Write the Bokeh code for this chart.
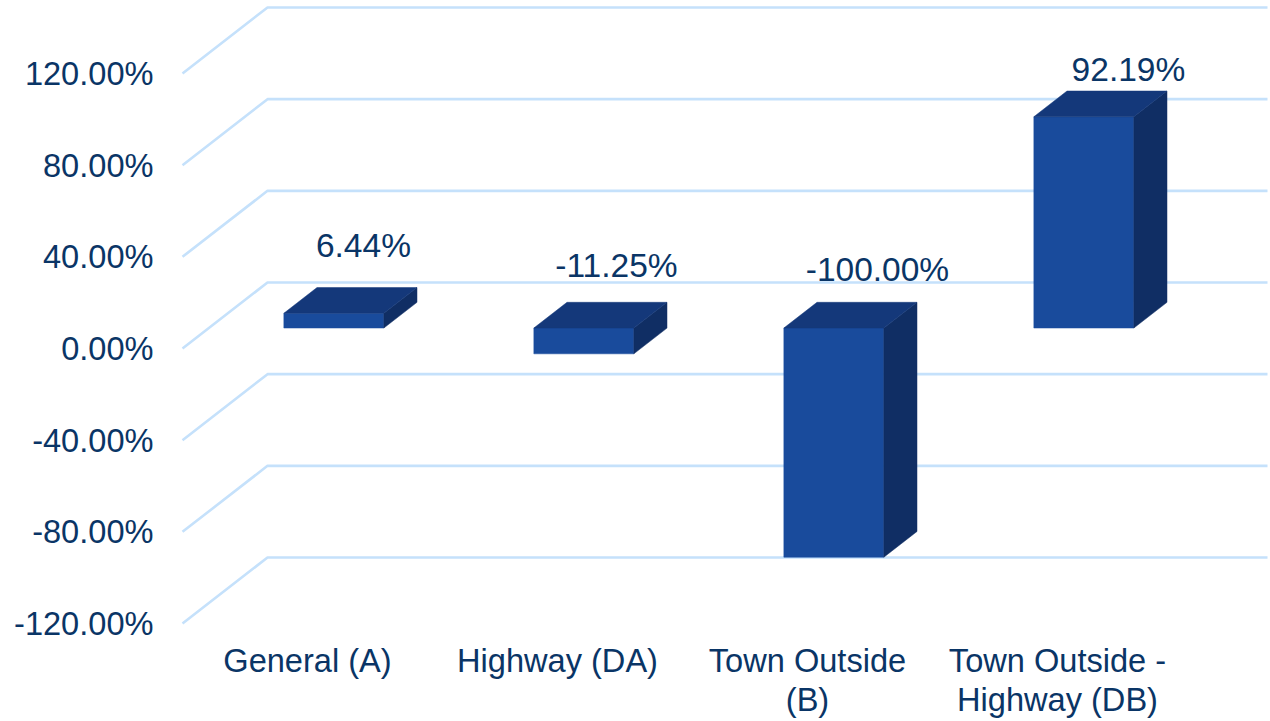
from bokeh.plotting import figure
from bokeh.models import Range1d, FixedTicker, ColumnDataSource
from bokeh.embed import file_html
from bokeh.resources import INLINE
from bokeh.core.properties import value

categories = ["General (A)", "Highway (DA)", "Town Outside\n(B)", "Town Outside -\nHighway (DB)"]
values = [6.44, -11.25, -100.00, 92.19]
y_ticks = [120, 80, 40, 0, -40, -80, -120]
y_tick_labels = ["120.00%", "80.00%", "40.00%", "0.00%", "-40.00%", "-80.00%", "-120.00%"]

FONT = "Liberation Sans"
TEXT = "#0a3566"
GRID = "#c5e1fb"
FRONT = "#194b9c"
TOP = "#14387a"
SIDE = "#102e64"

# Screen geometry of the fake 3D box
W, H = 1270, 721
L, B = 165, 630          # frame left / bottom in pixels
X0, XS = 307.0, 250.0    # pixel of category 0, pixels per category
Y0, YS = 348.0, 91.67 / 40  # pixel of value 0, pixels per percent

x_range = Range1d((L - X0) / XS, (W - X0) / XS)
y_range = Range1d((Y0 - B) / YS, Y0 / YS)

p = figure(width=W, height=H, x_range=x_range, y_range=y_range,
           output_backend="svg", toolbar_location=None,
           min_border_left=L, min_border_right=0, min_border_top=0,
           min_border_bottom=H - B, margin=(0, 0, 0, 0))
p.outline_line_color = None
p.background_fill_color = "white"
p.border_fill_color = "white"
p.grid.visible = False

# Depth of the box, in data units
DX, DY = 85 / XS, 66 / YS
N = len(categories)

gx = [[-0.5, -0.5 + DX, N - 0.5 + DX] for _ in y_ticks]
gy = [[t, t + DY, t + DY] for t in y_ticks]
p.multi_line(gx, gy, line_color=GRID, line_width=2.6)

# Bars sit between these two depth fractions
D0, D1 = 0.31, 0.70
HALF = 50 / XS
fronts, sides, tops = ([], []), ([], []), ([], [])
for i, v in enumerate(values):
    hi, lo = max(v, 0), min(v, 0)
    xl, xr = i + D0 * DX - HALF, i + D0 * DX + HALF
    yb, yt = lo + D0 * DY, hi + D0 * DY
    ddx, ddy = (D1 - D0) * DX, (D1 - D0) * DY
    fronts[0].append([xl, xr, xr, xl])
    fronts[1].append([yb, yb, yt, yt])
    sides[0].append([xr, xr + ddx, xr + ddx, xr])
    sides[1].append([yb, yb + ddy, yt + ddy, yt])
    tops[0].append([xl, xr, xr + ddx, xl + ddx])
    tops[1].append([yt, yt, yt + ddy, yt + ddy])

p.patches(fronts[0], fronts[1], fill_color=FRONT, line_color=FRONT, line_width=0.5)
p.patches(sides[0], sides[1], fill_color=SIDE, line_color=SIDE, line_width=0.5)
p.patches(tops[0], tops[1], fill_color=TOP, line_color=TOP, line_width=0.5)

# Data labels, anchored on the back of each bar's top face, nudged in pixels
label_nudge_x = [13, 16, 27, 28]
label_nudge_y = [42, 37, 33, 22]
src = ColumnDataSource(dict(
    x=[i + (D0 + D1) / 2 * DX for i in range(N)],
    y=[max(v, 0) + D1 * DY for v in values],
    t=[f"{v:.2f}%" for v in values],
    xo=label_nudge_x,
    yo=[-n for n in label_nudge_y],
))
p.text("x", "y", text="t", source=src, x_offset="xo", y_offset="yo",
       text_align="center", text_baseline="middle", text_color=TEXT,
       text_font=value(FONT), text_font_size="33.5px")

ax = p.yaxis[0]
ax.ticker = FixedTicker(ticks=y_ticks)
ax.major_label_overrides = {t: s for t, s in zip(y_ticks, y_tick_labels)}
ax.axis_line_color = None
ax.major_tick_line_color = None
ax.minor_tick_line_color = None
ax.major_label_standoff = 6
ax.major_label_text_color = TEXT
ax.major_label_text_font = FONT
ax.major_label_text_font_size = "32.6px"

bx = p.xaxis[0]
bx.ticker = FixedTicker(ticks=list(range(N)))
bx.major_label_overrides = {i: c for i, c in enumerate(categories)}
bx.axis_line_color = None
bx.major_tick_line_color = None
bx.minor_tick_line_color = None
bx.major_label_standoff = 5
bx.major_label_text_color = TEXT
bx.major_label_text_font = FONT
bx.major_label_text_font_size = "32.6px"
bx.major_label_text_line_height = 1.07

open("out.html", "w").write(file_html(p, INLINE))
